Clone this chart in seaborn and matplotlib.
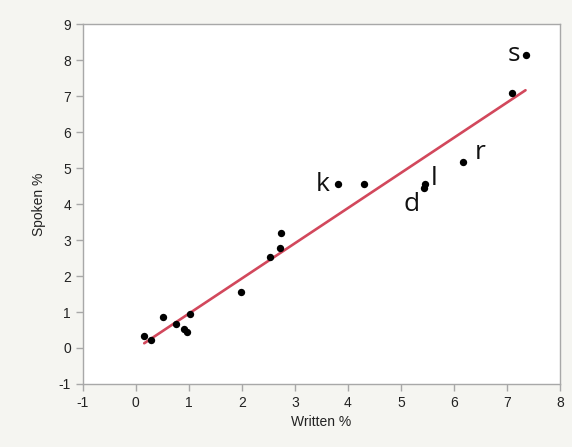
import numpy as np
import pandas as pd
import matplotlib
matplotlib.use("Agg")
import matplotlib.pyplot as plt
import seaborn as sns

written = [0.16, 0.29, 0.51, 0.75, 0.91, 0.97, 1.02, 1.99, 2.54, 2.72, 2.74,
           3.81, 4.31, 5.43, 5.46, 6.18, 7.09, 7.35]
spoken = [0.34, 0.23, 0.87, 0.66, 0.54, 0.45, 0.94, 1.56, 2.54, 2.77, 3.19,
          4.55, 4.56, 4.44, 4.55, 5.16, 7.09, 8.15]
letters = ["", "", "", "", "", "", "", "", "", "", "",
           "k", "", "d", "l", "r", "", "s"]

df = pd.DataFrame({"Written %": written, "Spoken %": spoken, "letter": letters})

sns.set_style("white")
plt.rcParams["font.family"] = ["Liberation Sans", "DejaVu Sans"]
plt.rcParams["axes.unicode_minus"] = False

fig = plt.figure(figsize=(5.72, 4.47), dpi=100, facecolor="#f5f5f1")
ax = fig.add_axes([0.1446, 0.141, 0.8344, 0.805])
ax.set_facecolor("white")

sns.regplot(data=df, x="Written %", y="Spoken %", ci=None, ax=ax,
            scatter_kws={"s": 28, "color": "black", "alpha": 1, "linewidths": 0, "zorder": 3},
            line_kws={"color": "#d2485c", "lw": 1.9, "zorder": 2})

# letter labels, offset in points from their dot
offsets = {"k": (-6, 0, "right", "center"), "d": (-3, -12, "right", "center"),
           "l": (4, 4, "left", "center"), "r": (8, 7, "left", "center"),
           "s": (-4, 0, "right", "center")}
for _, row in df[df["letter"] != ""].iterrows():
    dx, dy, ha, va = offsets[row["letter"]]
    ax.annotate(row["letter"], (row["Written %"], row["Spoken %"]),
                xytext=(dx, dy), textcoords="offset points", ha=ha, va=va,
                fontsize=19, family=["Open Sans", "DejaVu Sans"], color="#111111")

ax.set_xlim(-1, 8)
ax.set_ylim(-1, 9)
ax.set_xticks(range(-1, 9))
ax.set_yticks(range(-1, 10))
for s in ax.spines.values():
    s.set_color("#a8a8a8")
    s.set_linewidth(1.0)
ax.tick_params(axis="both", direction="out", length=5, width=1, color="#a8a8a8",
               labelsize=10, labelcolor="#222222", bottom=True, left=True)
ax.set_xlabel("Written %", fontsize=10, color="#222222")
ax.set_ylabel("Spoken %", fontsize=10, color="#222222", labelpad=9)

fig.savefig("out.png", dpi=100, facecolor=fig.get_facecolor())
